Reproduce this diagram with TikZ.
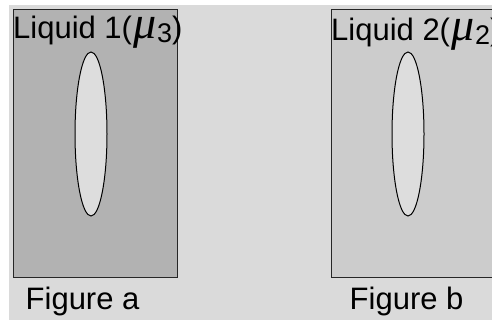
\documentclass[tikz,border=0pt]{standalone}
\usepackage{fontspec}
\setmainfont{Liberation Sans}
\newfontfamily\mufont{Liberation Serif}
\usetikzlibrary{shapes.geometric}
\definecolor{bggray}{HTML}{DADADA}
\definecolor{liqa}{HTML}{B2B2B2}
\definecolor{liqb}{HTML}{CCCCCC}
\definecolor{dropfill}{HTML}{DDDDDD}
\newcommand{\mysub}[1]{\kern1pt{\fontsize{46}{46}\mufont\itshape μ}\kern1pt\raisebox{-4pt}{\fontsize{27}{27}\selectfont #1}}
\begin{document}
\begin{tikzpicture}[x=1pt,y=-1pt,
  box/.style={rectangle, draw=black!85, line width=1pt, inner sep=0, anchor=north west},
  drop/.style={ellipse, draw=black, line width=1pt, fill=dropfill, inner sep=0, minimum width=32pt, minimum height=164pt},
  lbl/.style={anchor=base west, inner sep=0, font=\fontsize{31}{31}\selectfont}]
\useasboundingbox (0,0) rectangle (492,320);
\fill[white] (0,0) rectangle (492,320);
\fill[bggray] (9,5) rectangle (492,320);
\node[box, fill=liqa, minimum width=164pt, minimum height=268pt] (ra) at (13,9) {};
\node[box, fill=liqb, minimum width=175pt, minimum height=268pt] (rb) at (331,9) {};
\node[drop] (ea) at (91,134) {};
\node[drop] (eb) at (408,134) {};
\node[lbl] (la) at (13,39) {Liquid 1(\mysub{3})};
\node[lbl] (lb) at (331,41) {Liquid 2(\mysub{2})};
\node[lbl] (fa) at (25.5,309) {Figure a};
\node[lbl] (fb) at (349.5,309) {Figure b};
\end{tikzpicture}
\end{document}
